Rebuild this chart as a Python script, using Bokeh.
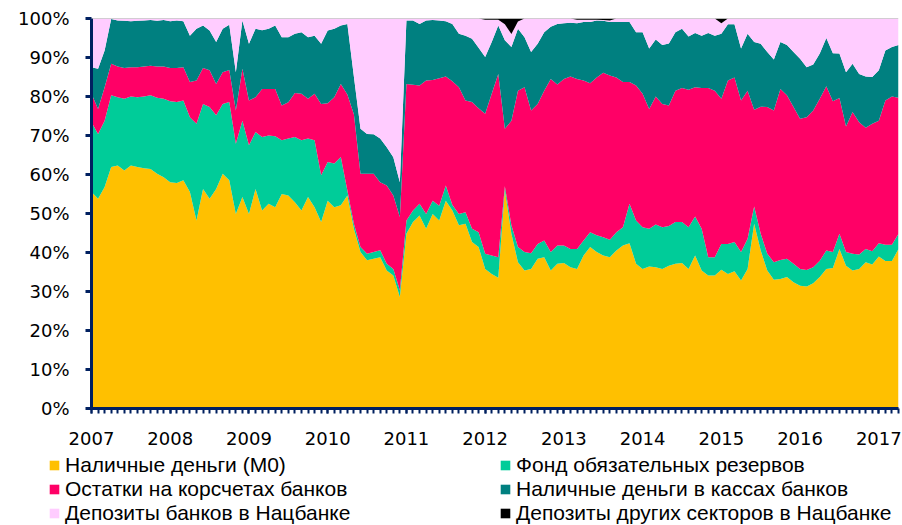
from bokeh.plotting import figure
from bokeh.layouts import column
from bokeh.models import (ColumnDataSource, Range1d, FixedTicker, PrintfTickFormatter,
                          Legend, LegendItem, Span)
from bokeh.embed import file_html
from bokeh.resources import INLINE

years = ["2007", "2008", "2009", "2010", "2011", "2012", "2013", "2014", "2015", "2016", "2017"]

m0 = [55.5, 53.8, 56.8, 61.9, 62.3, 61.0, 62.3, 61.9, 61.6, 61.4,
      60.2, 59.3, 58.0, 57.8, 58.5, 55.5, 48.2, 56.3, 53.8, 56.3,
      60.2, 58.5, 49.9, 54.2, 49.9, 56.3, 50.8, 52.5, 51.6, 55.0,
      54.6, 52.9, 50.8, 54.2, 51.6, 47.8, 53.3, 51.6, 52.1, 54.6,
      46.0, 40.1, 38.0, 38.4, 38.8, 35.4, 34.1, 28.6, 44.8, 47.8,
      49.5, 46.1, 49.9, 48.2, 53.3, 50.8, 47.0, 47.4, 42.7, 41.4,
      35.8, 34.5, 33.5, 56.0, 44.8, 37.5, 35.4, 35.8, 38.4, 38.8,
      35.4, 37.1, 37.3, 36.2, 35.8, 39.2, 41.4, 40.1, 39.2, 38.8,
      40.5, 41.8, 42.4, 37.1, 35.8, 36.4, 36.2, 35.8, 36.6, 37.1,
      37.3, 35.8, 39.2, 35.4, 34.1, 34.1, 35.6, 34.5, 35.2, 32.8,
      35.8, 47.4, 40.5, 35.4, 33.0, 33.2, 33.7, 32.4, 31.5, 31.3,
      32.1, 33.7, 35.8, 36.0, 40.9, 36.6, 35.4, 35.8, 37.5, 36.9,
      39.0, 37.8, 37.8, 40.9]

reserves = [17.9, 16.6, 17.0, 18.4, 17.5, 18.4, 17.7, 17.9, 18.4, 18.9,
            19.5, 20.1, 20.8, 20.8, 20.5, 19.2, 24.8, 21.8, 23.5, 18.9,
            17.9, 20.1, 18.0, 19.6, 17.6, 14.6, 18.8, 17.5, 18.2, 13.8,
            14.6, 16.7, 18.0, 15.0, 17.2, 12.0, 9.9, 11.2, 12.4, 1.3,
            1.3, 1.3, 1.7, 1.7, 1.8, 1.7, 1.7, 1.7, 3.4, 3.0,
            3.0, 3.8, 3.4, 3.8, 3.9, 1.4, 2.9, 2.9, 3.4, 3.8,
            3.9, 4.7, 5.3, 1.0, 2.2, 3.9, 4.7, 4.0, 3.8, 4.3,
            4.7, 4.7, 4.5, 4.7, 5.1, 3.9, 3.8, 4.3, 4.7, 4.5,
            4.7, 4.7, 10.1, 11.1, 10.7, 9.7, 11.0, 10.7, 10.2, 10.7,
            10.5, 10.7, 10.0, 10.7, 4.7, 4.7, 6.6, 7.7, 7.5, 7.3,
            7.7, 4.4, 4.3, 4.3, 4.5, 4.9, 4.7, 4.7, 4.3, 4.2,
            4.1, 4.2, 4.7, 4.1, 3.9, 3.5, 4.3, 3.7, 3.4, 3.4,
            3.4, 4.2, 4.2, 3.9]

corr_accounts = [7.3, 6.4, 8.6, 8.1, 7.9, 7.9, 7.5, 7.7, 7.7, 7.6,
                 8.0, 8.3, 8.5, 8.7, 8.5, 9.0, 11.1, 9.2, 9.4, 8.0,
                 8.1, 8.2, 8.5, 13.3, 11.5, 8.9, 12.3, 11.9, 12.1, 8.9,
                 9.3, 11.3, 11.9, 10.2, 11.9, 18.3, 15.1, 17.0, 18.7, 24.6,
                 28.1, 18.8, 20.5, 20.1, 17.4, 20.1, 18.8, 18.8, 35.0, 32.2,
                 30.3, 34.2, 30.9, 32.7, 27.9, 31.7, 32.5, 28.7, 32.5, 31.8,
                 35.9, 41.5, 47.0, 14.7, 26.8, 40.1, 42.3, 36.6, 35.9, 38.4,
                 44.4, 41.3, 42.7, 44.2, 43.6, 41.0, 38.2, 40.5, 42.2, 42.1,
                 39.7, 37.2, 31.2, 34.6, 34.2, 30.7, 32.8, 31.6, 30.9, 33.7,
                 34.4, 35.2, 33.2, 36.1, 43.4, 42.7, 37.2, 41.9, 42.2, 38.9,
                 38.0, 24.8, 32.6, 37.6, 38.9, 43.8, 41.9, 40.2, 38.5, 39.2,
                 40.2, 41.5, 42.1, 38.7, 34.8, 32.2, 36.3, 33.9, 31.1, 32.7,
                 31.4, 37.0, 38.0, 34.9]

bank_cash = [6.8, 10.3, 9.4, 11.5, 11.8, 12.1, 11.8, 11.9, 11.8, 11.7,
             11.7, 11.9, 12.0, 12.2, 11.8, 11.9, 13.3, 10.9, 10.2, 10.8,
             11.2, 11.6, 9.8, 12.4, 14.5, 17.6, 15.1, 15.5, 16.3, 17.5,
             16.7, 15.2, 15.8, 15.8, 14.9, 15.4, 18.6, 17.6, 15.0, 18.1,
             9.6, 11.5, 10.2, 10.1, 11.2, 9.8, 9.8, 8.9, 16.3, 16.5,
             15.8, 15.4, 15.4, 14.8, 14.2, 14.7, 13.7, 16.6, 16.2, 15.5,
             14.5, 13.3, 12.4, 22.7, 18.9, 15.9, 12.8, 15.0, 15.4, 15.0,
             13.4, 15.5, 14.3, 13.8, 14.3, 15.0, 15.7, 14.6, 13.3, 13.7,
             14.2, 15.4, 15.4, 13.7, 15.8, 15.5, 14.6, 15.1, 15.9, 15.0,
             15.2, 13.7, 13.9, 13.4, 14.1, 14.1, 16.7, 14.4, 13.6, 13.3,
             14.6, 17.4, 16.1, 14.1, 13.1, 12.1, 12.9, 14.1, 15.4, 12.8,
             11.8, 11.6, 12.4, 12.3, 11.4, 13.9, 12.4, 12.4, 13.1, 12.0,
             12.9, 12.8, 12.7, 13.5]

bank_deposits = [12.5, 12.9, 8.2, 0.1, 0.5, 0.6, 0.7, 0.6, 0.5, 0.4,
                 0.6, 0.4, 0.7, 0.5, 0.7, 4.4, 2.6, 1.8, 3.1, 6.0,
                 2.6, 1.6, 13.8, 0.5, 6.5, 2.6, 3.0, 2.6, 1.8, 4.8,
                 4.8, 3.9, 3.5, 4.8, 4.4, 6.5, 3.1, 2.6, 1.8, 1.4,
                 15.0, 28.3, 29.6, 29.7, 30.8, 33.0, 35.6, 42.0, 0.5, 0.5,
                 1.4, 0.5, 0.4, 0.5, 0.7, 1.4, 3.9, 4.4, 5.2, 7.5,
                 9.6, 5.7, 1.5, 4.1, 3.3, 1.8, 4.8, 8.6, 6.5, 3.5,
                 2.1, 1.4, 1.2, 1.1, 0.9, 0.6, 0.6, 0.2, 0.2, 0.4,
                 0.9, 0.9, 0.9, 3.5, 3.5, 7.7, 5.4, 6.8, 6.4, 3.5,
                 2.6, 4.6, 3.7, 4.4, 3.7, 4.4, 2.7, 1.5, 1.5, 7.7,
                 3.9, 6.0, 6.5, 8.6, 10.5, 6.0, 6.8, 8.6, 10.3, 12.5,
                 11.8, 9.0, 5.0, 8.9, 9.0, 13.8, 11.6, 14.2, 14.9, 15.0,
                 13.3, 8.2, 7.3, 6.8]

other_deposits = [0, 0, 0, 0, 0, 0, 0, 0, 0, 0,
                  0, 0, 0, 0, 0, 0, 0, 0, 0, 0,
                  0, 0, 0, 0, 0, 0, 0, 0, 0, 0,
                  0, 0, 0, 0, 0, 0, 0, 0, 0, 0,
                  0, 0, 0, 0, 0, 0, 0, 0, 0, 0,
                  0, 0, 0, 0, 0, 0, 0, 0, 0, 0,
                  0.3, 0.3, 0.3, 1.5, 4.0, 0.8, 0, 0, 0, 0,
                  0, 0, 0, 0, 0.3, 0.3, 0.3, 0.3, 0.4, 0.5,
                  0, 0, 0, 0, 0, 0, 0, 0, 0, 0,
                  0, 0, 0, 0, 0, 0, 1.2, 0, 0, 0,
                  0, 0, 0, 0, 0, 0, 0, 0, 0, 0,
                  0, 0, 0, 0, 0, 0, 0, 0, 0, 0,
                  0, 0, 0, 0]

labels = ["Наличные деньги (М0)", "Фонд обязательных резервов",
          "Остатки на корсчетах банков", "Наличные деньги в кассах банков",
          "Депозиты банков в Нацбанке", "Депозиты других секторов в Нацбанке"]
colors = ["#FFC000", "#00CC99", "#FF0066", "#008080", "#FFCCFF", "#000000"]
keys = ["m0", "reserves", "corr", "cash", "dep", "other"]

n = len(m0)
source = ColumnDataSource(dict(x=list(range(n)), m0=m0, reserves=reserves, corr=corr_accounts,
                               cash=bank_cash, dep=bank_deposits, other=other_deposits))

NAVY = "#002060"
p = figure(width=902, height=448, output_backend="svg", toolbar_location=None,
           x_range=Range1d(0, n - 1), y_range=Range1d(0, 100),
           min_border_left=91, min_border_right=4, min_border_top=18, min_border_bottom=40)
p.outline_line_color = None
p.xgrid.visible = False
p.ygrid.visible = False

rs = p.varea_stack(stackers=keys, x="x", color=colors, source=source)

p.add_layout(Span(location=100, dimension="width", line_color="#A6A6A6", line_width=1))

# y axis
p.yaxis.ticker = FixedTicker(ticks=list(range(0, 101, 10)))
p.yaxis.formatter = PrintfTickFormatter(format="%d%%")
p.yaxis.axis_line_color = NAVY
p.yaxis.axis_line_width = 3
p.yaxis.major_tick_line_color = NAVY
p.yaxis.major_tick_line_width = 3
p.yaxis.major_tick_out = 6
p.yaxis.major_tick_in = 0
p.yaxis.minor_tick_line_color = None
p.yaxis.major_label_standoff = 16
p.yaxis.major_label_text_font = "DejaVu Sans"
p.yaxis.major_label_text_font_size = "18px"
p.yaxis.major_label_text_color = "#000000"

# x axis
year_ticks = [12 * k for k in range(len(years))]
p.xaxis.ticker = FixedTicker(ticks=year_ticks, minor_ticks=list(range(n)))
p.xaxis.major_label_overrides = {t: y for t, y in zip(year_ticks, years)}
p.xaxis.axis_line_color = NAVY
p.xaxis.axis_line_width = 3
p.xaxis.major_tick_line_color = NAVY
p.xaxis.minor_tick_line_color = NAVY
p.xaxis.major_tick_line_width = 2
p.xaxis.minor_tick_line_width = 2
p.xaxis.major_tick_out = 5
p.xaxis.major_tick_in = 0
p.xaxis.minor_tick_out = 5
p.xaxis.minor_tick_in = 0
p.xaxis.major_label_standoff = 18
p.xaxis.major_label_text_font = "DejaVu Sans"
p.xaxis.major_label_text_font_size = "18px"
p.xaxis.major_label_text_color = "#000000"

# legend panel below the chart (swatch renderers hold a single point: no visible area)
leg = figure(width=902, height=77, output_backend="svg", toolbar_location=None,
             x_range=Range1d(0, 1), y_range=Range1d(0, 1),
             x_axis_type=None, y_axis_type=None,
             min_border_left=0, min_border_right=0, min_border_top=0, min_border_bottom=0)
leg.frame_align = False
leg.outline_line_color = None
swatches = [leg.varea(x=[0], y1=[0], y2=[0], color=c) for c in colors]


def make_legend(idx, vx):
    return Legend(items=[LegendItem(label=labels[i], renderers=[swatches[i]]) for i in idx],
                  location=(vx, 0), orientation="vertical", padding=0, margin=0,
                  spacing=0, border_line_color=None, background_fill_alpha=0,
                  glyph_width=12, glyph_height=12, label_standoff=5, label_height=21,
                  label_text_font="Liberation Sans", label_text_font_size="21px",
                  label_text_color="#000000")


leg.add_layout(make_legend([0, 2, 4], 48))
leg.add_layout(make_legend([1, 3, 5], 499))

layout = column(p, leg, spacing=0)
open("out.html", "w").write(file_html(layout, INLINE))
